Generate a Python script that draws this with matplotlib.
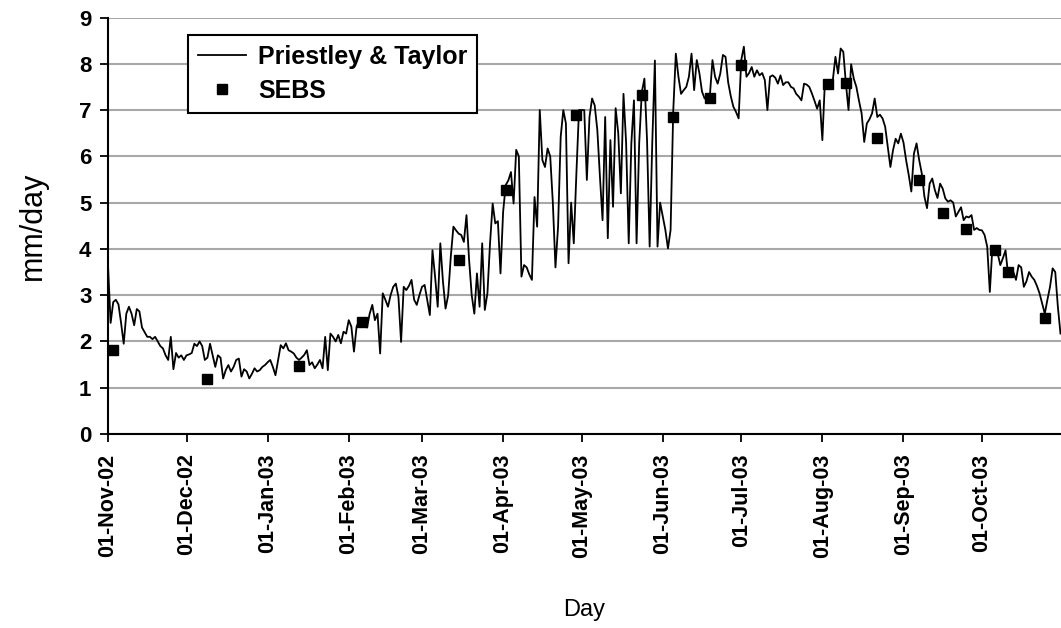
import numpy as np
import pandas as pd
import matplotlib
matplotlib.use("Agg")
import matplotlib.pyplot as plt
import matplotlib.dates as mdates

plt.rcParams['font.family'] = ['Liberation Sans', 'DejaVu Sans']
plt.rcParams['font.weight'] = 'bold'

# Daily Priestley & Taylor ET (mm/day), 01-Nov-2002 .. 31-Oct-2003
pt_nov = [3.65, 2.4, 2.85, 2.9, 2.8, 2.4, 1.95, 2.6, 2.75, 2.6, 2.35, 2.7, 2.65, 2.3, 2.2,
          2.1, 2.1, 2.05, 2.1, 2.0, 1.9, 1.85, 1.7, 1.6, 2.1, 1.4, 1.75, 1.65, 1.7, 1.6]
pt_dec = [1.7, 1.72, 1.75, 1.95, 1.9, 2.0, 1.9, 1.6, 1.65, 1.95, 1.7, 1.45, 1.7, 1.65, 1.2,
          1.38, 1.49, 1.35, 1.45, 1.6, 1.63, 1.24, 1.4, 1.35, 1.2, 1.3, 1.42, 1.35, 1.38, 1.45, 1.49]
pt_jan = [1.55, 1.6, 1.45, 1.27, 1.6, 1.92, 1.85, 1.96, 1.81, 1.78, 1.74, 1.65, 1.6, 1.65, 1.71,
          1.81, 1.49, 1.55, 1.42, 1.5, 1.6, 1.42, 2.1, 1.38, 2.17, 2.1, 2.0, 2.14, 1.96, 2.21, 2.17]
pt_feb = [2.46, 2.32, 1.78, 2.32, 2.45, 2.5, 2.46, 2.3, 2.6, 2.79, 2.46, 2.6, 1.74, 3.04, 2.9,
          2.75, 3.0, 3.18, 3.25, 2.96, 1.99, 3.18, 3.11, 3.2, 3.33, 2.9, 2.79, 3.0]
pt_mar = [3.18, 3.22, 2.9, 2.57, 3.97, 3.4, 2.75, 4.12, 3.3, 2.71, 3.0, 3.83, 4.48, 4.4, 4.33,
          4.3, 4.15, 4.73, 3.76, 3.0, 2.6, 3.47, 2.75, 4.12, 2.68, 3.04, 4.12, 4.98, 4.55, 4.6, 3.47]
pt_apr = [4.8, 5.38, 5.48, 5.66, 4.98, 6.14, 6.0, 3.4, 3.65, 3.6, 3.45, 3.33, 5.12, 4.48, 7.0,
          5.92, 5.77, 6.17, 6.0, 5.0, 3.6, 4.48, 6.42, 7.0, 6.71, 3.69, 5.0, 4.12, 5.63, 7.0]
pt_may = [7.0, 7.0, 5.49, 6.85, 7.25, 7.1, 6.57, 5.56, 4.62, 6.85, 4.23, 6.35, 4.91, 7.04, 6.5,
          5.2, 7.35, 6.3, 4.12, 6.28, 7.21, 4.12, 6.28, 7.39, 7.68, 6.35, 4.05, 6.3, 8.07, 4.05, 5.0]
pt_jun = [4.7, 4.41, 4.01, 4.41, 6.96, 8.22, 7.72, 7.35, 7.43, 7.5, 7.72, 8.22, 7.43, 8.08, 7.8,
          7.4, 7.25, 7.25, 7.3, 8.08, 7.72, 7.57, 7.79, 8.19, 8.15, 7.6, 7.3, 7.07, 6.96, 6.82]
pt_jul = [8.08, 8.37, 7.72, 7.8, 7.93, 7.72, 7.86, 7.75, 7.8, 7.65, 7.0, 7.72, 7.75, 7.7, 7.57,
          7.75, 7.54, 7.6, 7.6, 7.5, 7.47, 7.35, 7.29, 7.21, 7.57, 7.55, 7.5, 7.36, 7.2, 7.03, 7.21]
pt_aug = [6.35, 7.65, 7.57, 7.6, 7.65, 8.15, 7.79, 8.33, 8.26, 7.57, 7.0, 7.99, 7.68, 7.5, 7.2,
          6.93, 6.31, 6.71, 6.8, 6.93, 7.25, 6.85, 6.9, 6.82, 6.64, 6.2, 5.77, 6.13, 6.38, 6.28, 6.49]
pt_sep = [6.3, 5.92, 5.6, 5.24, 6.06, 6.28, 5.92, 5.63, 5.13, 4.88, 5.41, 5.52, 5.27, 5.1, 5.41,
          5.3, 5.09, 5.02, 5.05, 5.0, 4.7, 4.8, 4.9, 4.62, 4.7, 4.68, 4.73, 4.41, 4.45, 4.41]
pt_oct = [4.4, 4.3, 4.05, 3.07, 4.05, 4.05, 3.9, 3.65, 3.8, 3.97, 3.43, 3.54, 3.5, 3.33, 3.65,
          3.6, 3.18, 3.3, 3.5, 3.4, 3.33, 3.2, 3.04, 2.82, 2.6, 2.9, 3.18, 3.58, 3.5, 2.75, 2.17]

# SEBS estimates
sebs_dates = ["2002-11-03", "2002-12-09", "2003-01-13", "2003-02-06", "2003-03-15",
              "2003-04-02", "2003-04-29", "2003-05-24", "2003-06-05", "2003-06-19",
              "2003-07-01", "2003-08-03", "2003-08-10", "2003-08-22", "2003-09-07",
              "2003-09-16", "2003-09-25", "2003-10-06", "2003-10-11", "2003-10-25"]
sebs_vals = [1.81, 1.19, 1.47, 2.43, 3.76, 5.27, 6.89, 7.32, 6.85, 7.25,
             7.98, 7.57, 7.59, 6.39, 5.49, 4.77, 4.43, 3.97, 3.51, 2.50]

tick_dates = ["2002-11-01", "2002-12-01", "2003-01-01", "2003-02-01", "2003-03-01",
              "2003-04-01", "2003-05-01", "2003-06-01", "2003-07-01", "2003-08-01",
              "2003-09-01", "2003-10-01"]
y_ticks = [0, 1, 2, 3, 4, 5, 6, 7, 8, 9]

pt_vals = (pt_nov + pt_dec + pt_jan + pt_feb + pt_mar + pt_apr + pt_may + pt_jun +
           pt_jul + pt_aug + pt_sep + pt_oct)
days = pd.date_range("2002-11-01", periods=len(pt_vals), freq="D")

fig = plt.figure(figsize=(10.61, 6.28), dpi=100)
ax = fig.add_axes([108 / 1061, 1 - 434 / 628, 1 - 108 / 1061, (434 - 17.5) / 628])

ax.plot(days, pt_vals, color="black", lw=1.3, label="Priestley & Taylor", zorder=3)
ax.plot(pd.to_datetime(sebs_dates), sebs_vals, ls="none", marker="s", ms=7,
        color="black", label="SEBS", zorder=4)

ax.set_ylim(0, 9)
ax.set_xlim(days[0], days[0] + pd.Timedelta(days=364.2))
ax.set_yticks(y_ticks)
ax.yaxis.grid(True, color="#a8a8a8", lw=1.5)
ax.set_axisbelow(True)

ax.set_xticks(pd.to_datetime(tick_dates))
ax.xaxis.set_major_formatter(mdates.DateFormatter("%d-%b-%y"))
for lab in ax.get_xticklabels():
    lab.set_rotation(90)

ax.tick_params(axis="x", labelsize=15.5, length=6, width=1.3, direction="out", pad=8)
ax.tick_params(axis="y", labelsize=16, length=6, width=1.3, direction="out", pad=6)

for s in ["top", "right"]:
    ax.spines[s].set_visible(False)
for s in ["left", "bottom"]:
    ax.spines[s].set_linewidth(1.5)

ax.set_ylabel("mm/day", fontsize=22, fontweight="normal", labelpad=22)
ax.set_xlabel("Day", fontsize=17, labelpad=30)

leg = ax.legend(loc="upper left", bbox_to_anchor=(0.084, 0.959), borderaxespad=0,
                prop={"size": 18, "weight": "bold"}, fancybox=False, edgecolor="black",
                framealpha=1, handlelength=1.9, handletextpad=0.5, borderpad=0.4,
                labelspacing=0.4)
leg.get_frame().set_linewidth(1.5)

fig.savefig("out.png", dpi=100)
